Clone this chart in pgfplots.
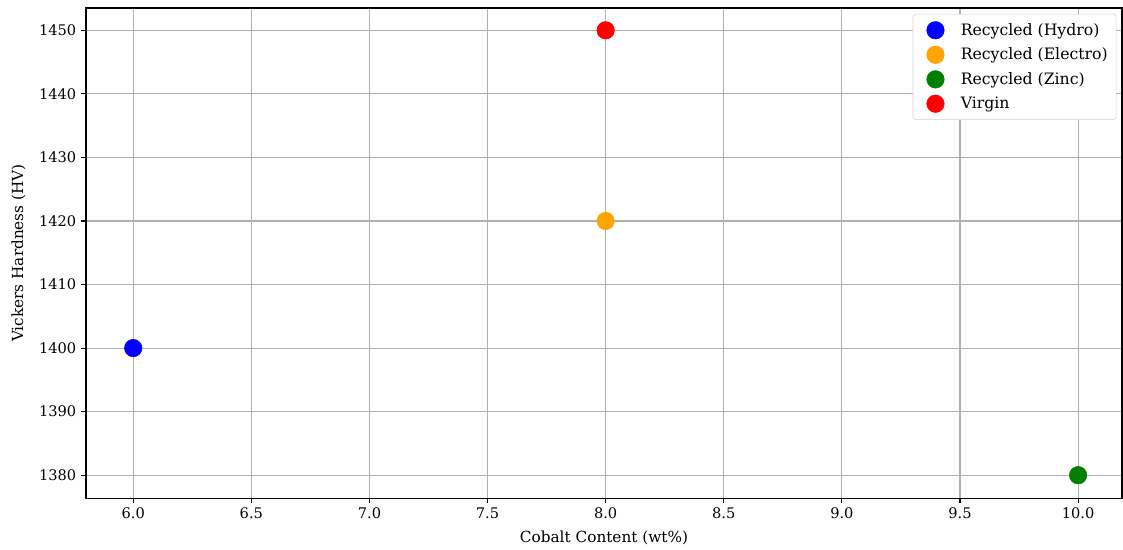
\documentclass[border=0pt]{standalone}
\usepackage{pgfplots}
\pgfplotsset{compat=1.18}
\usepackage{fontspec}
\setmainfont{DejaVu Serif}
\definecolor{mplorange}{RGB}{255,165,0}
\definecolor{mplgreen}{RGB}{0,128,0}
\definecolor{gridgray}{RGB}{176,176,176}
\begin{document}
\begin{tikzpicture}
\begin{axis}[
  scale only axis,
  width=745.9pt, height=352.8pt,
  xmin=5.8, xmax=10.186,
  ymin=1376.4, ymax=1453.5,
  xtick={6,6.5,...,10},
  ytick={1380,1390,...,1450},
  xticklabel style={/pgf/number format/.cd,fixed,fixed zerofill,precision=1},
  yticklabel style={/pgf/number format/.cd,fixed,precision=0,set thousands separator={}},
  /pgf/number format/assume math mode=true,
  tick label style={font=\fontsize{10.5pt}{12pt}\selectfont},
  label style={font=\fontsize{11pt}{13pt}\selectfont},
  xlabel style={yshift=-1.5pt},
  ylabel style={yshift=3pt},
  grid=major,
  axis on top,
  major grid style={color=gridgray, line width=0.8pt},
  tick align=outside,
  major tick length=3.5pt,
  tick style={black, line width=0.8pt},
  axis line style={line width=0.8pt},
  xtick pos=bottom, ytick pos=left,
  xlabel={Cobalt Content (wt\%)},
  ylabel={Vickers Hardness (HV)},
  legend style={at={(0.9945,0.988)}, anchor=north east, draw=gray!35, rounded corners=2pt,
    font=\fontsize{11.3pt}{13pt}\selectfont, fill=white,
    row sep=3.6pt, inner xsep=4pt, inner ysep=4.5pt},
  legend image code/.code={\path (0pt,0pt) (28pt,0pt); \draw[#1] plot coordinates {(12pt,0pt)};},
  legend cell align=left,
]
\addplot[only marks, mark=*, mark size=6.3pt, color=blue, mark options={draw=none, fill=blue}] coordinates {(6,1400)};
\addlegendentry{Recycled (Hydro)}
\addplot[only marks, mark=*, mark size=6.3pt, color=mplorange, mark options={draw=none, fill=mplorange}] coordinates {(8,1420)};
\addlegendentry{Recycled (Electro)}
\addplot[only marks, mark=*, mark size=6.3pt, color=mplgreen, mark options={draw=none, fill=mplgreen}] coordinates {(10,1380)};
\addlegendentry{Recycled (Zinc)}
\addplot[only marks, mark=*, mark size=6.3pt, color=red, mark options={draw=none, fill=red}] coordinates {(8,1450)};
\addlegendentry{Virgin}
\end{axis}
\path (current axis.south west) ++(-61.9pt,-35.3pt) (current axis.north east) ++(0.7pt,5.8pt);
\end{tikzpicture}
\end{document}
